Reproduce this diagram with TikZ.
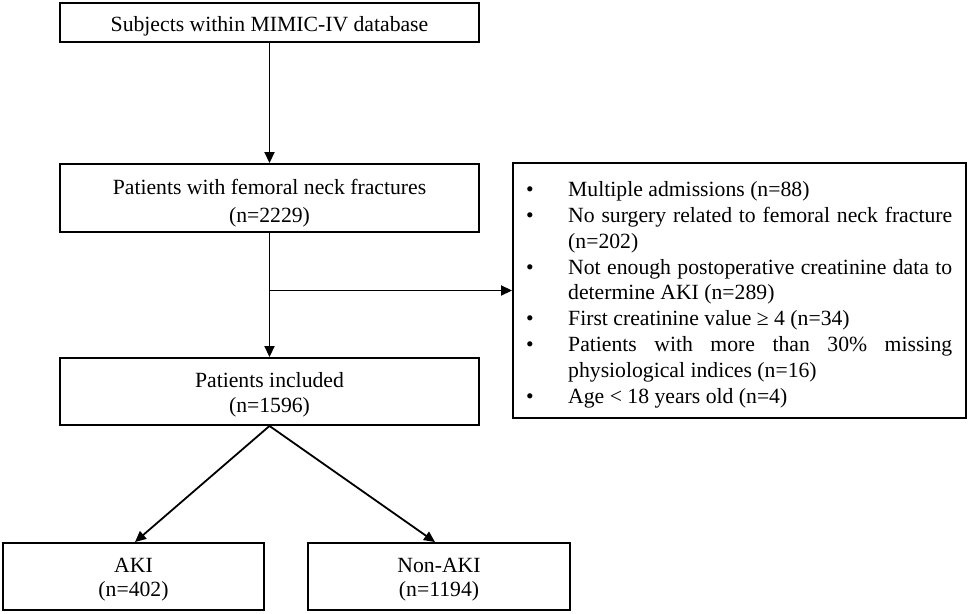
\documentclass[tikz,border=0pt]{standalone}
\usepackage{fontspec}
\setmainfont{Liberation Serif}
\usetikzlibrary{arrows.meta}
\newcommand\exitem[1]{\par\noindent\hangindent=42pt\hangafter=1\makebox[42pt][l]{\textbullet}#1\par}
\begin{document}
\begin{tikzpicture}[x=1pt,y=-1pt,
  box/.style={draw, line width=1.9pt, inner sep=0pt},
  txt/.style={inner sep=0pt, anchor=base, align=flush center},
  arr/.style={line width=1.8pt, -{Triangle[length=11pt,width=10pt]}}]
\useasboundingbox (0,0) rectangle (968,613);
\fill[white] (0,0) rectangle (968,613);
% boxes
\node[box, minimum width=419pt, minimum height=39pt] (b1) at (269.5,22.5) {};
\node[box, minimum width=419pt, minimum height=68pt] (b2) at (269.5,198) {};
\node[box, minimum width=419pt, minimum height=67pt] (b3) at (269.5,391.5) {};
\node[box, minimum width=261pt, minimum height=67pt] (aki) at (133.5,576.5) {};
\node[box, minimum width=262pt, minimum height=67pt] (non) at (439,576.5) {};
\node[box, minimum width=453pt, minimum height=255pt] (ex) at (739.5,290.5) {};
% texts
\node[txt, text width=400pt, font=\fontsize{21.7}{28}\selectfont] (t1) at (269.5,31.2) {Subjects within MIMIC-IV database};
\node[txt, text width=400pt, font=\fontsize{21.7}{28}\selectfont] (t2) at (269.5,194.2) {Patients with femoral neck fractures\\(n=2229)};
\node[txt, text width=400pt, font=\fontsize{21.7}{25.7}\selectfont] (t3) at (269.5,387.2) {Patients included\\(n=1596)};
\node[txt, text width=250pt, font=\fontsize{21.7}{23.4}\selectfont] (t4) at (133.5,572.9) {AKI\\(n=402)};
\node[txt, text width=250pt, font=\fontsize{21.7}{23.4}\selectfont] (t5) at (439,572.9) {Non-AKI\\(n=1194)};
\node[inner sep=0pt, anchor=base west] (t6) at (526,196.7) {%
\begin{minipage}[t]{426pt}\fontsize{21.7}{25.8}\selectfont\parindent=0pt\parskip=0pt
\exitem{Multiple admissions (n=88)}%
\exitem{No surgery related to femoral neck fracture\linebreak (n=202)}%
\exitem{Not enough postoperative creatinine data to\linebreak determine AKI (n=289)}%
\exitem{First creatinine value ≥ 4 (n=34)}%
\exitem{Patients with more than 30\% missing\linebreak physiological indices (n=16)}%
\exitem{Age < 18 years old (n=4)}%
\end{minipage}};
% connectors
\coordinate (br) at (b2.south |- ex.west);
\draw[arr] (b1.south) -- (b2.north);
\draw[arr] (b2.south) -- (b3.north);
\draw[arr] (br) -- (ex.west);
\draw[arr] (b3.south) -- ([xshift=1.5pt]aki.north);
\draw[arr] (b3.south) -- ([xshift=-4pt]non.north);
\end{tikzpicture}
\end{document}
